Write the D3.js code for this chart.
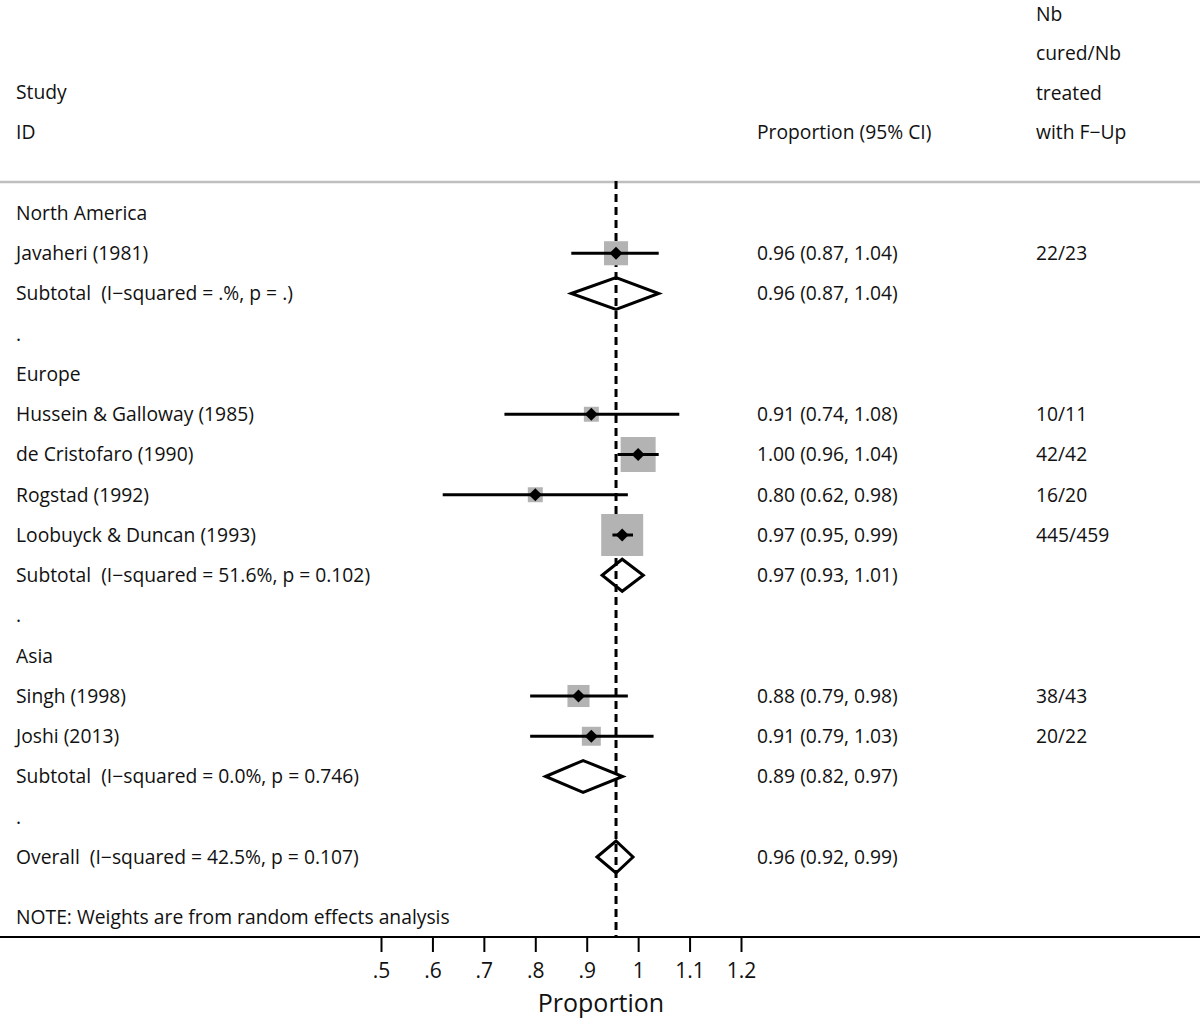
<!DOCTYPE html>
<html>
<head>
<meta charset="utf-8">
<script src="https://cdn.jsdelivr.net/npm/d3@7"></script>
<style>
  body { margin: 0; background: #fff; }
  text { font-family: "Open Sans", "Noto Sans", sans-serif; fill: #111; white-space: pre; }
</style>
</head>
<body>
<svg id="chart" width="1200" height="1020"></svg>
<script>
// rows of the forest plot, top to bottom
var rowLabels = [
  "North America", "Javaheri (1981)", "Subtotal  (I\u2212squared = .%, p = .)", ".",
  "Europe", "Hussein & Galloway (1985)", "de Cristofaro (1990)", "Rogstad (1992)",
  "Loobuyck & Duncan (1993)", "Subtotal  (I\u2212squared = 51.6%, p = 0.102)", ".",
  "Asia", "Singh (1998)", "Joshi (2013)", "Subtotal  (I\u2212squared = 0.0%, p = 0.746)", ".",
  "Overall  (I\u2212squared = 42.5%, p = 0.107)"
];
var rowType = ["head", "study", "sub", "gap", "head", "study", "study", "study", "study", "sub", "gap",
               "head", "study", "study", "sub", "gap", "sub"];
var est = [null, 0.957, 0.957, null, null, 0.909, 1.000, 0.800, 0.969, 0.969, null,
           null, 0.884, 0.909, 0.893, null, 0.957];
var lo  = [null, 0.87, 0.87, null, null, 0.74, 0.96, 0.62, 0.95, 0.93, null,
           null, 0.79, 0.79, 0.82, null, 0.92];
var hi  = [null, 1.04, 1.04, null, null, 1.08, 1.04, 0.98, 0.99, 1.01, null,
           null, 0.98, 1.03, 0.97, null, 0.99];
// weights (%)
var weight = [null, 11.9, null, null, null, 4.6, 25.2, 4.6, 36.3, null, null,
              null, 10.0, 7.4, null, null, null];
var cured = [null, "22/23", null, null, null, "10/11", "42/42", "16/20", "445/459", null, null,
             null, "38/43", "20/22", null, null, null];
var xTicks = [0.5, 0.6, 0.7, 0.8, 0.9, 1.0, 1.1, 1.2];
var overallEst = 0.957;

var svg = d3.select("#chart");
var fs = 19.3;

var x = d3.scaleLinear().domain([0.5, 1.2]).range([381, 741]);
var y = d3.scaleLinear().domain([0, rowLabels.length - 1]).range([213, 857]);
var boxSize = d3.scaleSqrt().domain([0, 36.3]).range([0, 42]);
var fmt = d3.format(".2f");

// header
var hdr = svg.append("g");
hdr.append("text").attr("x", 16).attr("y", 92).attr("dy", "0.35em").attr("font-size", fs).text("Study");
hdr.append("text").attr("x", 16).attr("y", 132).attr("dy", "0.35em").attr("font-size", fs).text("ID");
hdr.append("text").attr("x", 757).attr("y", 132).attr("dy", "0.35em").attr("font-size", fs).text("Proportion (95% CI)");
["Nb", "cured/Nb", "treated", "with F\u2212Up"].forEach(function (t, i) {
  hdr.append("text").attr("x", 1036).attr("y", 14 + i * 39.4).attr("dy", "0.35em").attr("font-size", fs).text(t);
});
svg.append("line").attr("x1", 0).attr("x2", 1200).attr("y1", 182).attr("y2", 182)
  .attr("stroke", "#bfbfbf").attr("stroke-width", 2.5);

// overall estimate reference line
svg.append("line").attr("x1", x(overallEst)).attr("x2", x(overallEst)).attr("y1", 181).attr("y2", 937)
  .attr("stroke", "#000").attr("stroke-width", 3).attr("stroke-dasharray", "8,5");

var idx = d3.range(rowLabels.length);

// row labels
svg.append("g").selectAll("text").data(idx).join("text")
  .attr("x", 16).attr("y", function (i) { return y(i); }).attr("dy", "0.35em")
  .attr("font-size", fs).text(function (i) { return rowLabels[i]; });

// estimate text column
svg.append("g").selectAll("text").data(idx.filter(function (i) { return est[i] != null; })).join("text")
  .attr("x", 757).attr("y", function (i) { return y(i); }).attr("dy", "0.35em").attr("font-size", fs)
  .text(function (i) { return fmt(est[i]) + " (" + fmt(lo[i]) + ", " + fmt(hi[i]) + ")"; });

// counts column
svg.append("g").selectAll("text").data(idx.filter(function (i) { return cured[i] != null; })).join("text")
  .attr("x", 1036).attr("y", function (i) { return y(i); }).attr("dy", "0.35em").attr("font-size", fs)
  .text(function (i) { return cured[i]; });

var studies = idx.filter(function (i) { return rowType[i] === "study"; });
var subs = idx.filter(function (i) { return rowType[i] === "sub"; });

// weight boxes
svg.append("g").selectAll("rect").data(studies).join("rect")
  .attr("x", function (i) { return x(est[i]) - boxSize(weight[i]) / 2; })
  .attr("y", function (i) { return y(i) - boxSize(weight[i]) / 2; })
  .attr("width", function (i) { return boxSize(weight[i]); })
  .attr("height", function (i) { return boxSize(weight[i]); })
  .attr("fill", "#b3b3b3");

// confidence intervals
svg.append("g").selectAll("line").data(studies).join("line")
  .attr("x1", function (i) { return x(lo[i]); }).attr("x2", function (i) { return x(hi[i]); })
  .attr("y1", function (i) { return y(i); }).attr("y2", function (i) { return y(i); })
  .attr("stroke", "#000").attr("stroke-width", 3);

// point estimates
svg.append("g").selectAll("path").data(studies).join("path")
  .attr("d", function (i) {
    var cx = x(est[i]), cy = y(i), r = 6.5;
    return "M" + (cx - r) + "," + cy + "L" + cx + "," + (cy - r) + "L" + (cx + r) + "," + cy + "L" + cx + "," + (cy + r) + "Z";
  })
  .attr("fill", "#000");

// pooled diamonds
svg.append("g").selectAll("path").data(subs).join("path")
  .attr("d", function (i) {
    var cy = y(i), h = 16;
    return "M" + x(lo[i]) + "," + cy + "L" + x(est[i]) + "," + (cy - h) + "L" + x(hi[i]) + "," + cy +
      "L" + x(est[i]) + "," + (cy + h) + "Z";
  })
  .attr("fill", "none").attr("stroke", "#000").attr("stroke-width", 3).attr("stroke-linejoin", "miter");

// note
svg.append("text").attr("x", 16).attr("y", 917).attr("dy", "0.35em").attr("font-size", fs)
  .text("NOTE: Weights are from random effects analysis");

// x axis
svg.append("line").attr("x1", 0).attr("x2", 1200).attr("y1", 937).attr("y2", 937)
  .attr("stroke", "#000").attr("stroke-width", 2);
var axis = svg.append("g").attr("transform", "translate(0,937)")
  .call(d3.axisBottom(x).tickValues(xTicks).tickSize(15).tickPadding(11)
    .tickFormat(function (d) { return d3.format("")(d).replace(/^0\./, "."); }));
axis.select(".domain").remove();
axis.selectAll(".tick line").attr("stroke", "#000").attr("stroke-width", 2);
axis.selectAll(".tick text").attr("font-size", 21).attr("font-family", "\"Open Sans\", sans-serif").attr("fill", "#111");
svg.append("text").attr("x", 601).attr("y", 1003).attr("dy", "0.35em").attr("text-anchor", "middle")
  .attr("font-size", 25).text("Proportion");
</script>
</body>
</html>
